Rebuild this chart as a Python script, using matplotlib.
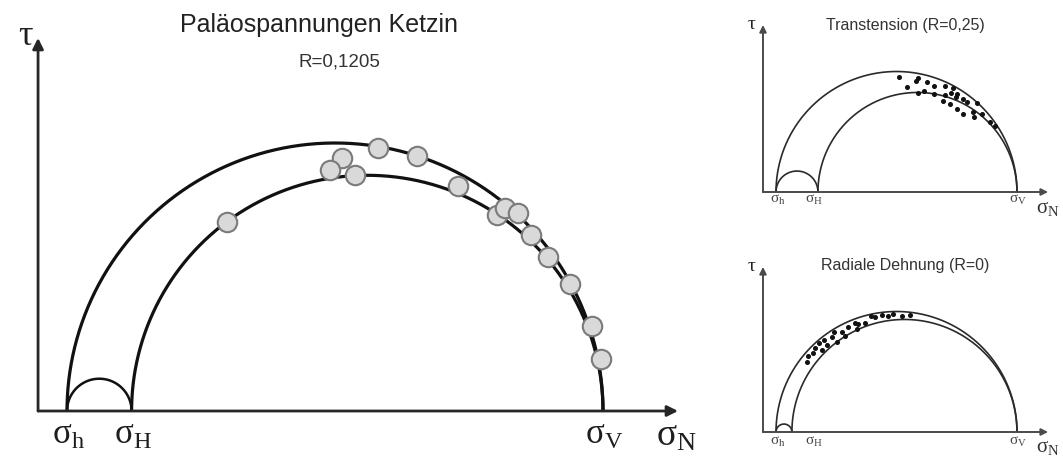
import numpy as np
import matplotlib
matplotlib.use('Agg')
import matplotlib.pyplot as plt

# Mohr circles, stresses normalised: sigma_h = 0, sigma_V = 1
main_sig = [0.0, 0.1205, 1.0]          # sigma_h, sigma_H, sigma_V
main_R = '0,1205'

# measured planes (sigma_N, tau), normalised
main_sn = [0.580, 0.653, 0.513, 0.491, 0.537, 0.729, 0.802, 0.817,
           0.841, 0.866, 0.897, 0.938, 0.979, 0.996, 0.299]
main_tau = [0.491, 0.476, 0.472, 0.450, 0.440, 0.420, 0.366, 0.379,
            0.369, 0.328, 0.287, 0.237, 0.159, 0.097, 0.353]

trans_sig = [0.0, 0.174, 1.0]
trans_sn = [0.510, 0.581, 0.589, 0.627, 0.656, 0.701, 0.544, 0.589, 0.614,
            0.656, 0.701, 0.726, 0.751, 0.776, 0.793, 0.834, 0.693, 0.722,
            0.747, 0.751, 0.776, 0.817, 0.822, 0.855, 0.888, 0.909, 0.734]
trans_tau = [0.477, 0.461, 0.473, 0.456, 0.440, 0.440, 0.436, 0.411, 0.419,
             0.407, 0.402, 0.411, 0.407, 0.386, 0.373, 0.369, 0.378, 0.365,
             0.394, 0.344, 0.324, 0.332, 0.311, 0.324, 0.290, 0.274, 0.432]

radial_sig = [0.0, 0.066, 1.0]
radial_sn = [0.129, 0.133, 0.154, 0.162, 0.178, 0.191, 0.199, 0.212, 0.232,
             0.241, 0.253, 0.274, 0.286, 0.299, 0.328, 0.336, 0.340, 0.369,
             0.394, 0.411, 0.440, 0.465, 0.485, 0.523, 0.556]
radial_tau = [0.290, 0.315, 0.328, 0.349, 0.369, 0.340, 0.382, 0.361, 0.394,
              0.415, 0.373, 0.415, 0.398, 0.436, 0.452, 0.427, 0.448, 0.452,
              0.481, 0.477, 0.485, 0.481, 0.490, 0.481, 0.485]

sig_subs = ['h', 'H', 'V']
small_label_x = [0.008, 0.158, 1.004]

serif = 'Liberation Serif'
sans = 'Liberation Sans'


def half_circle(ax, a, b, **kw):
    t = np.linspace(0, np.pi, 300)
    c, r = (a + b) / 2, (b - a) / 2
    ax.plot(c + r * np.cos(t), r * np.sin(t), solid_capstyle='butt', **kw)


def axes_arrows(ax, x0, xtip, ytip, lw, color, ms):
    props = dict(arrowstyle='-|>', lw=lw, color=color, shrinkA=0, shrinkB=0,
                 mutation_scale=ms)
    ax.annotate('', xy=(xtip, 0), xytext=(x0, 0), arrowprops=props)
    ax.annotate('', xy=(x0, ytip), xytext=(x0, 0), arrowprops=props)


def sig_text(ax, x, y, sub, size, color, ha='center'):
    ax.text(x, y, r'$\mathregular{\sigma_{%s}}$' % sub, fontsize=size,
            family=serif, color=color, ha=ha, va='baseline')


fig = plt.figure(figsize=(10.63, 4.59), dpi=100)
plt.rcParams['mathtext.fontset'] = 'custom'
plt.rcParams['mathtext.rm'] = serif

# --- main diagram ---
ax = fig.add_axes([0, 0, 720 / 1063, 1])
ax.set_xlim(-67 / 536, 653 / 536)
ax.set_ylim(-48 / 536, 411 / 536)
ax.axis('off')

axes_arrows(ax, -0.054, 1.140, 0.696, 2.0, '#262626', 16)
sh, sH, sV = main_sig
half_circle(ax, sh, sV, color='#111111', lw=2.3)
half_circle(ax, sH, sV, color='#111111', lw=2.3)
half_circle(ax, sh, sH, color='#111111', lw=1.8)
ax.plot(main_sn, main_tau, 'o', ms=14, mfc='#d9d9d9', mec='#7a7a7a',
        mew=1.5, zorder=5)

for s, sub in zip(main_sig, sig_subs):
    sig_text(ax, s + 0.003, -0.062, sub, 25, '#1e1e1e')
sig_text(ax, 1.098, -0.064, 'N', 27, '#1e1e1e', ha='left')
ax.text(-0.078, 0.683, 'τ', fontsize=26, family=serif, color='#1e1e1e',
        ha='center', va='baseline')
ax.text(0.470, 0.708, 'Paläospannungen Ketzin', fontsize=18, family=sans,
        color='#222222', ha='center', va='baseline')
ax.text(0.509, 0.642, 'R=' + main_R, fontsize=13.5, family=sans,
        color='#333333', ha='center', va='baseline')

# --- small schematic diagrams ---
panels = [
    ((740 / 1063, 229.5 / 459, 323 / 1063, 229.5 / 459),
     (-37.5 / 241, 192 / 241), trans_sig, trans_sn, trans_tau,
     'Transtension (R=0,25)', 0.693, -0.046, -0.087),
    ((740 / 1063, 0, 323 / 1063, 229.5 / 459),
     (-27 / 241, 202.5 / 241), radial_sig, radial_sn, radial_tau,
     'Radiale Dehnung (R=0)', 0.685, -0.054, -0.085),
]
for pos, ylim, sig, sn, tau, title, ytip, ylab, yn in panels:
    a = fig.add_axes(pos)
    a.set_xlim(-36 / 241, 287 / 241)
    a.set_ylim(*ylim)
    a.axis('off')
    axes_arrows(a, -0.054, 1.129, ytip, 1.4, '#4a4a4a', 10)
    half_circle(a, sig[0], sig[2], color='#2a2a2a', lw=1.2)
    half_circle(a, sig[1], sig[2], color='#2a2a2a', lw=1.2)
    half_circle(a, sig[0], sig[1], color='#2a2a2a', lw=1.2)
    a.plot(sn, tau, 'o', ms=2.6, color='#111111', zorder=5)
    for lx, sub in zip(small_label_x, sig_subs):
        sig_text(a, lx, ylab, sub, 11, '#444444')
    sig_text(a, 1.080, yn, 'N', 15, '#333333', ha='left')
    a.text(-0.10, ytip - 0.015, 'τ', fontsize=14, family=serif,
           color='#222222', ha='center', va='baseline')
    a.text(0.535, 0.672, title, fontsize=11.5, family=sans,
           color='#333333', ha='center', va='baseline')

fig.savefig('out.png', dpi=100)
